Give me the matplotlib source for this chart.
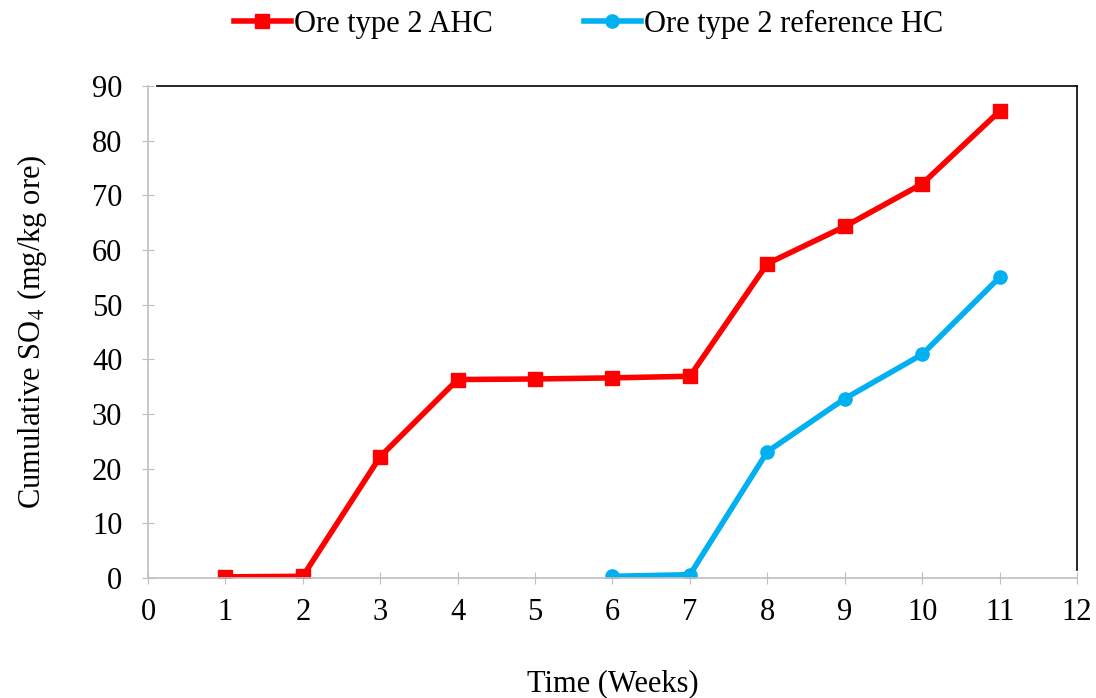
import matplotlib.pyplot as plt

plt.rcParams['font.family'] = 'Liberation Serif'
plt.rcParams['mathtext.fontset'] = 'stix'

weeks_ahc = [1, 2, 3, 4, 5, 6, 7, 8, 9, 10, 11]
so4_ahc = [0.2, 0.3, 22.2, 36.3, 36.4, 36.6, 36.9, 57.5, 64.3, 72.1, 85.4]
weeks_ref = [6, 7, 8, 9, 10, 11]
so4_ref = [0.3, 0.6, 23.1, 32.8, 40.9, 55.0]

fig = plt.figure(figsize=(10.96, 6.98), dpi=100)
ax = fig.add_axes([0.135, 0.172, 0.8477, 0.7048])

ax.plot(weeks_ahc, so4_ahc, color='#FF0000', lw=4.0, marker='s', ms=9.5, label='Ore type 2 AHC')
ax.plot(weeks_ref, so4_ref, color='#00B0F0', lw=4.0, marker='o', ms=9.5, label='Ore type 2 reference HC')

ax.set_xlim(0, 12)
ax.set_ylim(0, 90)
ax.set_xticks(range(0, 13))
ax.set_yticks(range(0, 91, 10))
ax.tick_params(direction='inout', length=9, color='#BFBFBF', labelsize=22)
ax.tick_params(axis='y', pad=14)
ax.tick_params(axis='x', pad=10)

ax.spines['left'].set_color('#BFBFBF')
ax.spines['bottom'].set_color('#BFBFBF')
ax.spines['top'].set_color('black')
ax.spines['right'].set_color('black')
ax.spines['top'].set_bounds(0.12, 12)
ax.spines['right'].set_bounds(1.5, 90)
for s in ax.spines.values():
    s.set_linewidth(1.2)

ax.set_xlabel('Time (Weeks)', fontsize=22, labelpad=30)
ax.set_ylabel('Cumulative SO$_4$ (mg/kg ore)', fontsize=22, labelpad=31)

fig.legend(loc='center', bbox_to_anchor=(0.537, 0.965), ncol=2, frameon=False,
           fontsize=22, handlelength=1.85, handletextpad=0.1, columnspacing=3.0)

fig.savefig('out.png', dpi=100)
